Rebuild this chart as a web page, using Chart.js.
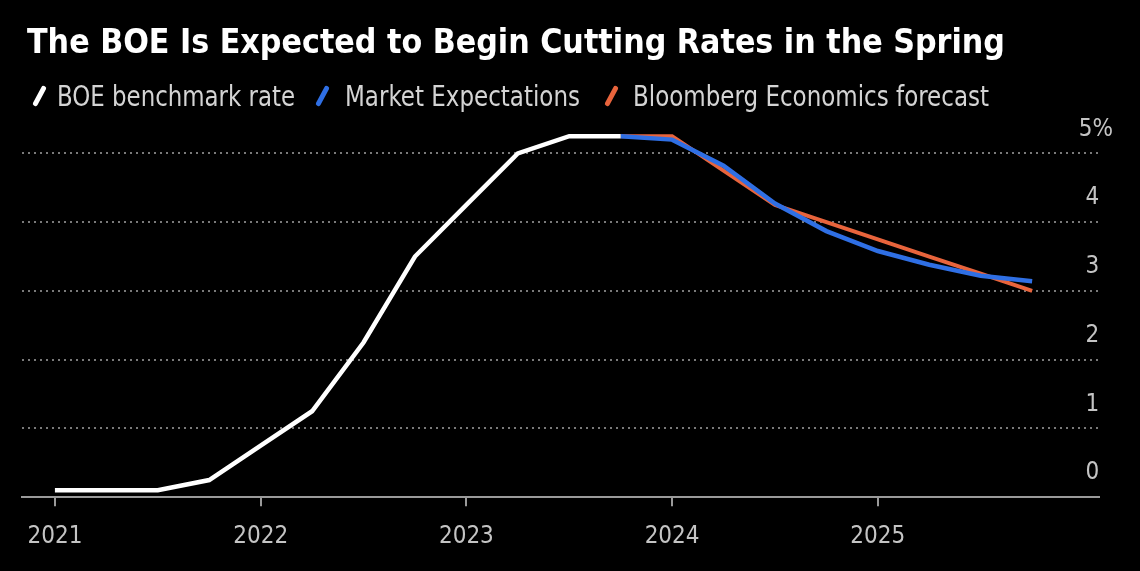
<!DOCTYPE html>
<html>
<head>
<meta charset="utf-8">
<script src="https://cdn.jsdelivr.net/npm/chart.js@4.4.1/dist/chart.umd.min.js"></script>
<style>
  html, body { margin: 0; padding: 0; background: #000; }
  #wrap { position: relative; width: 1140px; height: 571px; overflow: hidden; }
  #chart { position: absolute; left: 0; top: 0; }
  .txt { position: absolute; white-space: nowrap; transform-origin: 0 50%;
         font-family: "Liberation Sans Narrow", "DejaVu Sans Condensed", "Open Sans", sans-serif; }
  #title { left: 27px; top: 22px; color: #fff; font-weight: bold; font-size: 33px; line-height: 40px; }
  .leg { top: 80px; color: #d4d4d4; font-size: 28px; line-height: 34px; }
  .mark { position: absolute; top: 85px; width: 5px; height: 22px; border-radius: 2px; transform: rotate(28deg); }
</style>
</head>
<body>
<div id="wrap">
  <canvas id="chart" width="1140" height="571"></canvas>
  <div id="title" class="txt" data-w="978">The BOE Is Expected to Begin Cutting Rates in the Spring</div>
  <span class="mark" style="left:37px;background:#ffffff"></span>
  <div class="txt leg" style="left:57px" data-w="238">BOE benchmark rate</div>
  <span class="mark" style="left:320px;background:#2f6fe4"></span>
  <div class="txt leg" style="left:345px" data-w="235">Market Expectations</div>
  <span class="mark" style="left:609px;background:#e8643c"></span>
  <div class="txt leg" style="left:633px" data-w="356">Bloomberg Economics forecast</div>
</div>
<script>
// quarterly x positions (year fractions)
const boeQuarters = [2021, 2021.25, 2021.5, 2021.75, 2022, 2022.25, 2022.5, 2022.75, 2023, 2023.25, 2023.5, 2023.75];
const boeRate = [0.1, 0.1, 0.1, 0.25, 0.75, 1.25, 2.25, 3.5, 4.25, 5.0, 5.25, 5.25];

const fcQuarters = [2023.75, 2024, 2024.25, 2024.5, 2024.75, 2025, 2025.25, 2025.5, 2025.75];
const marketExp = [5.25, 5.2, 4.82, 4.27, 3.87, 3.58, 3.38, 3.22, 3.14];
const bbgForecast = [5.25, 5.25, 4.75, 4.25, 4.0, 3.75, 3.5, 3.25, 3.0];

const yearTicks = [2021, 2022, 2023, 2024, 2025];
const rateTicks = [0, 1, 2, 3, 4, 5];

// squeeze the html texts to the reference widths
document.querySelectorAll('.txt').forEach((el) => {
    const w = el.getBoundingClientRect().width;
    el.style.transform = 'scaleX(' + (el.dataset.w / w) + ')';
});

const tickFont = {family: '"Liberation Sans Narrow", "DejaVu Sans Condensed", "Open Sans", sans-serif', size: 24};

const toXY = (xs, ys) => xs.map((x, i) => ({x: x, y: ys[i]}));

const ctx = document.getElementById('chart').getContext('2d');
new Chart(ctx, {
    type: 'line',
    data: {
        datasets: [
            {
                label: 'BOE benchmark rate',
                data: toXY(boeQuarters, boeRate),
                borderColor: '#ffffff',
                borderWidth: 4.5,
                pointRadius: 0
            },
            {
                label: 'Market Expectations',
                data: toXY(fcQuarters, marketExp),
                borderColor: '#2f6fe4',
                borderWidth: 4.5,
                pointRadius: 0
            },
            {
                label: 'Bloomberg Economics forecast',
                data: toXY(fcQuarters, bbgForecast),
                borderColor: '#e8643c',
                borderWidth: 4,
                pointRadius: 0
            }
        ]
    },
    options: {
        responsive: false,
        animation: false,
        layout: {padding: {left: 22, right: 13, top: 119, bottom: 4}},
        plugins: {legend: {display: false}, tooltip: {enabled: false}},
        scales: {
            x: {
                type: 'linear',
                min: 2020.84,
                max: 2026.075,
                afterBuildTicks: (axis) => { axis.ticks = yearTicks.map((v) => ({value: v})); },
                ticks: {
                    color: '#c4c4c4',
                    font: tickFont,
                    padding: 16,
                    maxRotation: 0,
                    callback: (v) => String(v)
                },
                grid: {drawOnChartArea: false, drawTicks: true, tickLength: 9, color: '#9a9a9a', lineWidth: 2},
                border: {display: true, color: '#9a9a9a', width: 2}
            },
            y: {
                position: 'right',
                min: 0,
                max: 5.5,
                afterBuildTicks: (axis) => { axis.ticks = rateTicks.map((v) => ({value: v})); },
                ticks: {
                    color: '#c4c4c4',
                    font: tickFont,
                    mirror: true,
                    padding: 14,
                    labelOffset: -24,
                    callback: (v) => v === 5 ? '5%' : v + '\u2007'
                },
                grid: {
                    drawTicks: false,
                    lineWidth: 2,
                    color: (c) => c.tick && c.tick.value === 0 ? 'rgba(0,0,0,0)' : '#7a7a7a'
                },
                border: {display: false, dash: [2, 4]}
            }
        }
    }
});
</script>
</body>
</html>
